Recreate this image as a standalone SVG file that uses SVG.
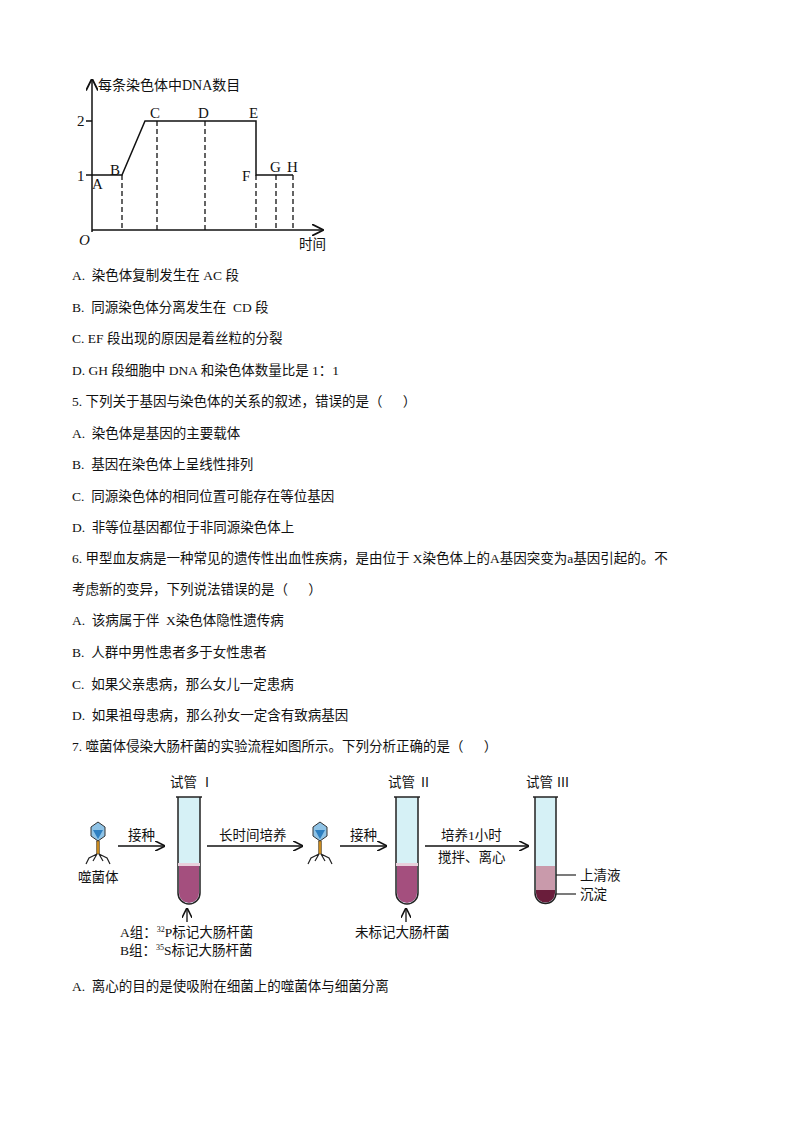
<svg xmlns="http://www.w3.org/2000/svg" width="794" height="1123" viewBox="0 0 794 1123">
<style>
text{font-family:"Liberation Serif","Noto Sans CJK SC",serif;font-size:13.5px;fill:#111;white-space:pre}
.g{font-size:15px}
.ax{stroke:#111;stroke-width:1.5;fill:none}
.da{stroke:#111;stroke-width:1.3;stroke-dasharray:5,3}
.tube{fill:#d6f1f6;stroke:#222;stroke-width:1.5}
.ar{stroke:#111;stroke-width:1.3;marker-end:url(#ah)}
</style>
<defs>
<marker id="ah" markerWidth="8" markerHeight="8" refX="7" refY="4" orient="auto"><path d="M0,0 L8,4 L0,8" fill="none" stroke="#111" stroke-width="1.2"/></marker>
<g id="phage">
<polygon points="0,-12 7,-7 7,2 0,7 -7,2 -7,-7" fill="#8fc3e6" stroke="#333" stroke-width="1"/>
<polygon points="-5,-4 5,-4 0,5" fill="#2d7fc1"/>
<rect x="-1.5" y="7" width="3" height="13" fill="#c8891e" stroke="#333" stroke-width="0.5"/>
<path d="M-1,20 L-9,24 L-12,30 M1,20 L9,24 L12,30 M-1,20 L-5,27 M1,20 L5,27" stroke="#222" stroke-width="1.2" fill="none"/>
</g>
</defs>
<rect width="794" height="1123" fill="#fff"/>
<g id="graph">
<path class="ax" d="M92,232 V80" marker-end="url(#ah)"/>
<path class="ax" d="M92,230 H322" marker-end="url(#ah)"/>
<path class="ax" d="M92,175 H122 L145,121 H256 V175 H293"/>
<path class="ax" d="M86,121 H92 M86,175 H92"/>
<line class="da" x1="122" y1="175" x2="122" y2="230"/>
<line class="da" x1="157" y1="121" x2="157" y2="230"/>
<line class="da" x1="205" y1="121" x2="205" y2="230"/>
<line class="da" x1="256" y1="175" x2="256" y2="230"/>
<line class="da" x1="276" y1="175" x2="276" y2="230"/>
<line class="da" x1="293" y1="175" x2="293" y2="230"/>
<text x="98" y="90" style="font-size:14px">每条染色体中DNA数目</text>
<text class="g" x="77" y="126">2</text><text class="g" x="77" y="181">1</text>
<text class="g" x="92" y="189">A</text><text class="g" x="110" y="175">B</text>
<text class="g" x="150" y="118">C</text><text class="g" x="198" y="118">D</text><text class="g" x="249" y="118">E</text>
<text class="g" x="242" y="181">F</text><text class="g" x="270" y="172">G</text><text class="g" x="287" y="172">H</text>
<text class="g" x="79" y="245" style="font-style:italic">O</text>
<text x="299" y="249">时间</text>
</g>
<g id="text">
<text x="72" y="280">A.  染色体复制发生在 AC 段</text>
<text x="72" y="312">B.  同源染色体分离发生在  CD 段</text>
<text x="72" y="343">C. EF 段出现的原因是着丝粒的分裂</text>
<text x="72" y="375">D. GH 段细胞中 DNA 和染色体数量比是 1：1</text>
<text x="72" y="406">5. 下列关于基因与染色体的关系的叙述，错误的是（      ）</text>
<text x="72" y="438">A.  染色体是基因的主要载体</text>
<text x="72" y="469">B.  基因在染色体上呈线性排列</text>
<text x="72" y="501">C.  同源染色体的相同位置可能存在等位基因</text>
<text x="72" y="532">D.  非等位基因都位于非同源染色体上</text>
<text x="72" y="563">6. 甲型血友病是一种常见的遗传性出血性疾病，是由位于 X染色体上的A基因突变为a基因引起的。不</text>
<text x="72" y="594">考虑新的变异，下列说法错误的是（      ）</text>
<text x="72" y="625">A.  该病属于伴  X染色体隐性遗传病</text>
<text x="72" y="657">B.  人群中男性患者多于女性患者</text>
<text x="72" y="689">C.  如果父亲患病，那么女儿一定患病</text>
<text x="72" y="720">D.  如果祖母患病，那么孙女一定含有致病基因</text>
<text x="72" y="751">7. 噬菌体侵染大肠杆菌的实验流程如图所示。下列分析正确的是（      ）</text>
<text x="72" y="991">A.  离心的目的是使吸附在细菌上的噬菌体与细菌分离</text>
</g>
<g id="figure">
<use href="#phage" transform="translate(98,834)"/>
<use href="#phage" transform="translate(320,834)"/>
<text x="78" y="882">噬菌体</text>
<g id="tube1"><path class="tube" d="M178,797 V893 a11,11 0 0 0 22,0 V797"/><path d="M179,865 H199 V893 a10,10 0 0 1 -20,0Z" fill="#a44f7e"/><rect x="178" y="863" width="22" height="3" fill="#e8d0dc"/><line x1="176" y1="797" x2="202" y2="797" stroke="#222" stroke-width="1.5"/></g>
<g id="tube2"><path class="tube" d="M396,797 V893 a11,11 0 0 0 22,0 V797"/><path d="M397,865 H417 V893 a10,10 0 0 1 -20,0Z" fill="#a44f7e"/><rect x="396" y="863" width="22" height="3" fill="#e8d0dc"/><line x1="394" y1="797" x2="420" y2="797" stroke="#222" stroke-width="1.5"/></g>
<g id="tube3"><path class="tube" d="M535,797 V893 a10.5,10.5 0 0 0 21,0 V797"/><path d="M536,866 H555 V890 H536Z" fill="#c99aab"/><path d="M536,890 H555 V893 a9.5,9.5 0 0 1 -19,0Z" fill="#6a1d3b"/><line x1="533" y1="797" x2="558" y2="797" stroke="#222" stroke-width="1.5"/></g>
<text x="170" y="787">试管 Ⅰ</text>
<text x="388" y="787">试管 Ⅱ</text>
<text x="526" y="787">试管 Ⅲ</text>
<line class="ar" x1="118" y1="846" x2="164" y2="846"/><text x="128" y="840">接种</text>
<line class="ar" x1="207" y1="846" x2="302" y2="846"/><text x="219" y="840">长时间培养</text>
<line class="ar" x1="340" y1="846" x2="386" y2="846"/><text x="350" y="840">接种</text>
<line class="ar" x1="425" y1="846" x2="528" y2="846"/><text x="441" y="840">培养1小时</text><text x="438" y="862">搅拌、离心</text>
<line x1="556" y1="875" x2="576" y2="875" stroke="#222" stroke-width="1.2"/><text x="580" y="880">上清液</text>
<line x1="556" y1="894" x2="576" y2="894" stroke="#222" stroke-width="1.2"/><text x="580" y="899">沉淀</text>
<line class="ar" x1="187" y1="922" x2="187" y2="909"/>
<line class="ar" x1="406" y1="922" x2="406" y2="909"/>
<text x="120" y="937">A组：<tspan font-size="8" dy="-5">32</tspan><tspan dy="5">P标记大肠杆菌</tspan></text>
<text x="120" y="955">B组：<tspan font-size="8" dy="-5">35</tspan><tspan dy="5">S标记大肠杆菌</tspan></text>
<text x="355" y="937">未标记大肠杆菌</text>
</g>
</svg>
